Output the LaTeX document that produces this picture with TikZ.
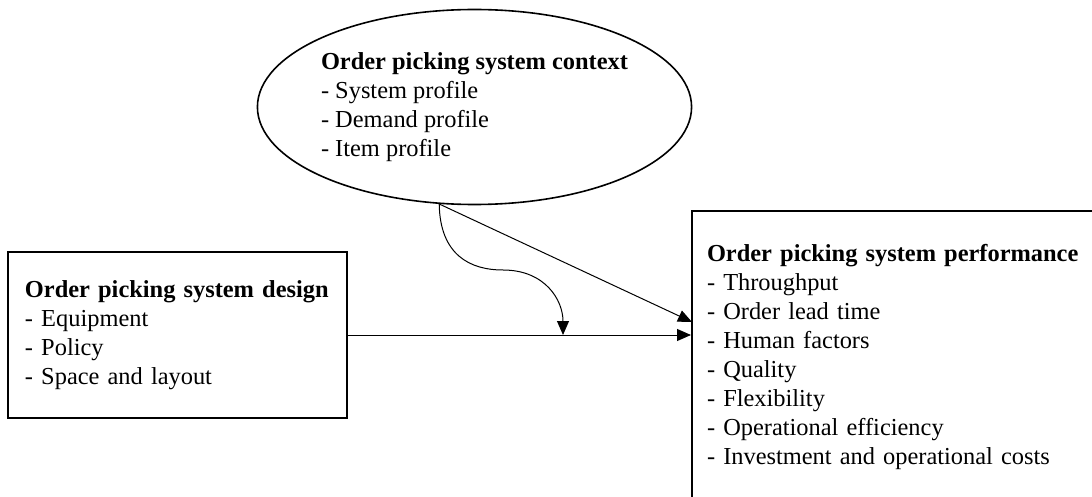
\documentclass[tikz,border=0pt]{standalone}
\usepackage{fontspec}
\setmainfont{Liberation Serif}
\usetikzlibrary{shapes.geometric,arrows.meta}
\newcommand\txt{\fontsize{12.2pt}{14.5pt}\selectfont}
\tikzset{box/.style={rectangle,draw=black,line width=1pt,align=left,font=\txt},
         ctxbox/.style={ellipse,draw=black,line width=0.8pt,align=left,font=\txt,inner sep=0pt},
         arr/.style={-{Triangle[length=7pt,width=6pt]},line width=0.5pt}}
\begin{document}
\begin{tikzpicture}[x=0.5pt,y=-0.5pt]
                \useasboundingbox (0,0) rectangle (1092,497);
                \node[ctxbox,minimum width=203.5pt,minimum height=97.5pt] (ctx) at (474.5,107)
                        {\textbf{Order picking system context}\\- System profile\\- Demand profile\\- Item profile};
                \node[box,minimum width=169.5pt,minimum height=83pt,text width=152.5pt,inner xsep=8.5pt] (design) at (177.5,335)
                        {\textbf{Order picking system design}\\- Equipment\\- Policy\\- Space and layout};
                \node[box,minimum width=204pt,minimum height=145.5pt,text width=189pt,inner xsep=7.5pt] (perf) at (896,357)
                        {\textbf{Order picking system performance}\\- Throughput\\- Order lead time\\- Human factors\\- Quality\\- Flexibility\\- Operational efficiency\\- Investment and operational costs};

                \coordinate (bend) at (503,270);
                \coordinate (hit) at (563,335);
                \coordinate (inlet) at (692,322);

                \draw[arr] (design.east) -- (design.east -| perf.west);
                \draw[arr] (ctx.250) -- (inlet);
                \draw[arr] (ctx.250) .. controls (440,255) and (470,270) .. (bend)
                        .. controls (545,270) and (563,300) .. (hit);
            \end{tikzpicture}
\end{document}
